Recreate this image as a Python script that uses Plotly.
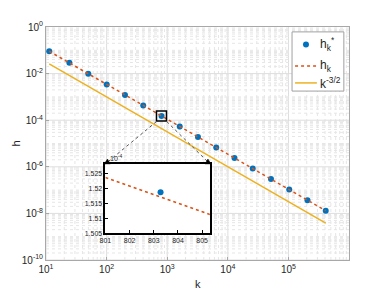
import plotly.graph_objects as go

# ---- data ----
k_star = [11.3, 24.3, 49.8, 100.4, 200.8, 401.6, 803.3, 1606.6, 3213, 6426,
          12853, 25706, 51411, 102822, 205645, 411290]
h_star = [0.09104, 0.02887, 0.009840, 3.437e-3, 1.2153e-3, 4.2967e-4, 1.519e-4,
          5.370e-5, 1.8987e-5, 6.713e-6, 2.3731e-6, 8.390e-7, 2.9665e-7,
          1.0488e-7, 3.708e-8, 1.311e-8]
k_line = [11.3, 411290]
h_line = [0.09093, 1.3095e-8]
k_ref = [11.3, 411290]
h_ref = [0.02633, 3.791e-9]

# inset (zoom near k = 803)
inset_k_line = [801, 805.32]
inset_h_line = [1.5237e-4, 1.5113e-4]
inset_k_pt = [803.28]
inset_h_pt = [1.5188e-4]

legend_names = ['h<sub>k</sub><sup>*</sup>', 'h<sub>k</sub>', 'k<sup>-3/2</sup>']

x_tickvals = [1e1, 1e2, 1e3, 1e4, 1e5]
x_ticktext = ['10<sup>1</sup>', '10<sup>2</sup>', '10<sup>3</sup>', '10<sup>4</sup>', '10<sup>5</sup>']
y_tickvals = [1e0, 1e-2, 1e-4, 1e-6, 1e-8, 1e-10]
y_ticktext = ['10<sup>0</sup>', '10<sup>-2</sup>', '10<sup>-4</sup>', '10<sup>-6</sup>',
              '10<sup>-8</sup>', '10<sup>-10</sup>']
ix_tickvals = [801, 802, 803, 804, 805]
ix_ticktext = ['801', '802', '803', '804', '805']
iy_tickvals = [1.505e-4, 1.51e-4, 1.515e-4, 1.52e-4, 1.525e-4]
iy_ticktext = ['1.505', '1.51', '1.515', '1.52', '1.525']

BLUE = '#0072BD'
RED = '#D95319'
YEL = '#EDB120'
FONT = 'Liberation Sans, Arial, sans-serif'
TXT = '#262626'

fig = go.Figure()
fig.add_trace(go.Scatter(x=k_star, y=h_star, mode='markers', name=legend_names[0],
                         marker=dict(color=BLUE, size=6), xaxis='x', yaxis='y'))
fig.add_trace(go.Scatter(x=k_line, y=h_line, mode='lines', name=legend_names[1],
                         line=dict(color=RED, width=1.5, dash='dot'), xaxis='x', yaxis='y'))
fig.add_trace(go.Scatter(x=k_ref, y=h_ref, mode='lines', name=legend_names[2],
                         line=dict(color=YEL, width=1.5), xaxis='x', yaxis='y'))
# zoom box marker around the zoomed point
fig.add_trace(go.Scatter(x=[k_star[6]], y=[h_star[6]], mode='markers',
                         marker=dict(symbol='square-open', size=10, color='black', line=dict(width=1.5)),
                         xaxis='x', yaxis='y', hoverinfo='skip'))
# inset traces
fig.add_trace(go.Scatter(x=inset_k_line, y=inset_h_line, mode='lines',
                         line=dict(color=RED, width=1.5, dash='dot'), xaxis='x2', yaxis='y2'))
fig.add_trace(go.Scatter(x=inset_k_pt, y=inset_h_pt, mode='markers',
                         marker=dict(color=BLUE, size=6), xaxis='x2', yaxis='y2'))

shapes = []
# minor/major gridlines for log axes
for d in range(1, 6):
    for m in range(1, 10):
        v = m * 10 ** d
        major = (m == 1)
        shapes.append(dict(type='line', xref='x', yref='paper', x0=v, x1=v, y0=0, y1=1,
                           line=dict(color='#dedede' if major else '#e6e6e6', width=1,
                                     dash='solid' if major else 'dot'), layer='below'))
for d in range(-10, 0):
    for m in range(1, 10):
        v = m * 10.0 ** d
        major = (m == 1 and d % 2 == 0)
        shapes.append(dict(type='line', xref='paper', yref='y', x0=0, x1=1, y0=v, y1=v,
                           line=dict(color='#dedede' if major else '#e6e6e6', width=1,
                                     dash='solid' if major else 'dot'), layer='below'))

# connector lines from zoom box to inset (paper coords)
ix0, ix1, iy0, iy1 = 0.196, 0.541, 0.115, 0.4125
bx0, bx1, by = 0.365, 0.398, 0.5946
shapes.append(dict(type='line', xref='paper', yref='paper', x0=bx0, y0=by, x1=ix0, y1=iy1,
                   line=dict(color='#555555', width=1, dash='dot')))
shapes.append(dict(type='line', xref='paper', yref='paper', x0=bx1, y0=by, x1=ix1, y1=iy1,
                   line=dict(color='#555555', width=1, dash='dot')))
PW, PH = 1 / 303.0, 1 / 240.0
def tri(xc, yc):
    return dict(type='path', xref='paper', yref='paper',
                path=f'M {xc-3*PW} {yc} L {xc+3*PW} {yc} L {xc} {yc+5*PH} Z',
                fillcolor='black', line=dict(color='black', width=0.5))
shapes.append(tri(ix0 + 2 * PW, iy1))
shapes.append(tri(ix1 - 2 * PW, iy1))

# legend (drawn manually to match compact MATLAB legend)
lx0, lx1, ly0, ly1 = 0.812, 0.983, 0.725, 0.979
shapes.append(dict(type='rect', xref='paper', yref='paper', x0=lx0, x1=lx1, y0=ly0, y1=ly1,
                   line=dict(color='#a0a0a0', width=1), fillcolor='white'))
row_y = [0.925, 0.833, 0.760]
shapes.append(dict(type='circle', xref='paper', yref='paper', xsizemode='pixel', ysizemode='pixel',
                   xanchor=0.858, yanchor=row_y[0], x0=-3, x1=3, y0=-3, y1=3,
                   fillcolor=BLUE, line=dict(color=BLUE, width=0)))
shapes.append(dict(type='line', xref='paper', yref='paper', x0=0.822, x1=0.894, y0=row_y[1], y1=row_y[1],
                   line=dict(color=RED, width=1.5, dash='dot')))
shapes.append(dict(type='line', xref='paper', yref='paper', x0=0.822, x1=0.894, y0=row_y[2], y1=row_y[2],
                   line=dict(color=YEL, width=1.5)))

annotations = [
    dict(text='k', xref='paper', yref='paper', x=0.5, y=0, yshift=-16, showarrow=False,
         font=dict(size=11, color=TXT), yanchor='top'),
    dict(text='h', xref='paper', yref='paper', x=0, y=0.5, xshift=-31, showarrow=False,
         font=dict(size=11, color=TXT), textangle=-90, xanchor='center'),
    dict(text='10<sup>-4</sup>', xref='paper', yref='paper', x=ix0, y=iy1, xshift=3,
         showarrow=False, xanchor='left', yanchor='bottom', font=dict(size=7, color=TXT)),
]
for name, yy in zip(legend_names, row_y):
    annotations.append(dict(text=name, xref='paper', yref='paper', x=0.897, y=yy, showarrow=False,
                            xanchor='left', yanchor='middle', font=dict(size=12, color=TXT)))

# page body has an 8px default margin: size the figure so the plot area lands where the reference has it
fig.update_layout(
    width=362, height=282,
    margin=dict(l=38, r=21, t=12, b=30),
    paper_bgcolor='white', plot_bgcolor='white',
    font=dict(family=FONT, size=10, color=TXT),
    showlegend=False,
    xaxis=dict(type='log', range=[1, 5.998], domain=[0, 1], tickmode='array',
               tickvals=x_tickvals, ticktext=x_ticktext, showgrid=False, zeroline=False,
               showline=True, mirror=True, linecolor='#a8a8a8', linewidth=1,
               ticks='inside', ticklen=3, tickcolor='#a8a8a8',
               tickfont=dict(size=10, color=TXT)),
    yaxis=dict(type='log', range=[-10, 0], domain=[0, 1], tickmode='array',
               tickvals=y_tickvals, ticktext=y_ticktext, showgrid=False, zeroline=False,
               showline=True, mirror=True, linecolor='#a8a8a8', linewidth=1,
               ticks='inside', ticklen=3, tickcolor='#a8a8a8',
               tickfont=dict(size=10, color=TXT)),
    xaxis2=dict(domain=[ix0, ix1], anchor='y2', range=[801, 805.32], tickmode='array',
                tickvals=ix_tickvals, ticktext=ix_ticktext, showgrid=False, zeroline=False,
                showline=True, mirror=True, linecolor='black', linewidth=1.5,
                ticks='inside', ticklen=3, tickcolor='black',
                tickfont=dict(size=7, color=TXT)),
    yaxis2=dict(domain=[iy0, iy1], anchor='x2', range=[1.505e-4, 1.5283e-4], tickmode='array',
                tickvals=iy_tickvals, ticktext=iy_ticktext, showgrid=False, zeroline=False,
                showline=True, mirror=True, linecolor='black', linewidth=1.5,
                ticks='inside', ticklen=3, tickcolor='black',
                tickfont=dict(size=7, color=TXT)),
    shapes=shapes,
    annotations=annotations,
)

fig.write_html('out.html')
